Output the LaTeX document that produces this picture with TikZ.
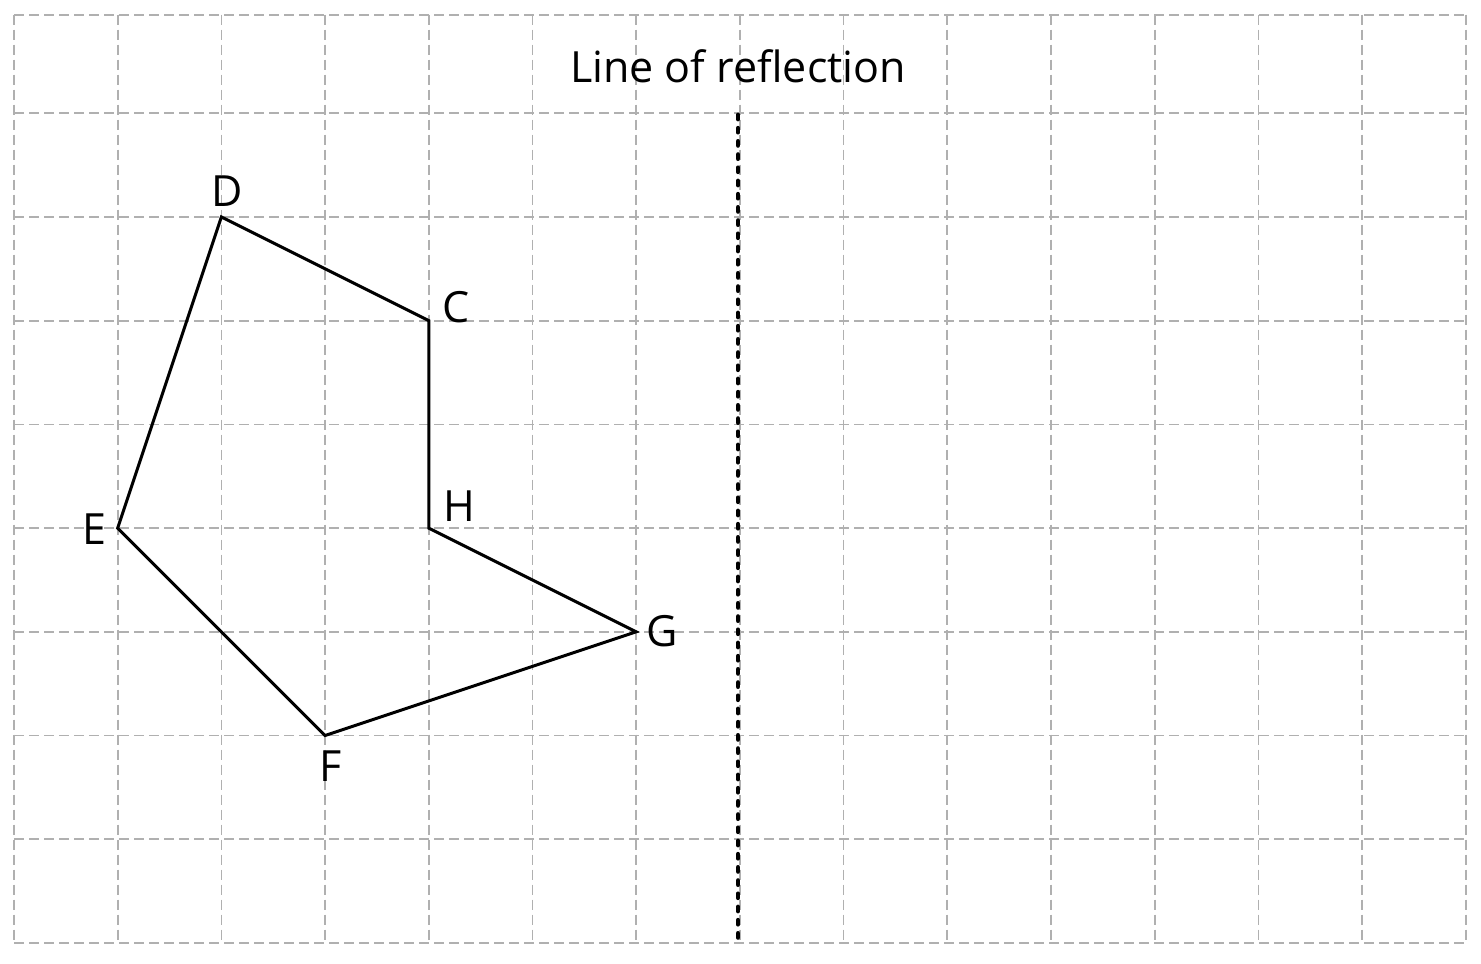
\documentclass[tikz,border=0pt]{standalone}
\usepackage{fontspec}
\setmainfont{Open Sans}
\definecolor{gridgray}{RGB}{176,176,176}
\begin{document}
\begin{tikzpicture}[x=0.5pt,y=-0.5pt,
  gridline/.style={draw=gridgray,line width=0.85pt,dash pattern=on 5pt off 2.5pt},
  shapeline/.style={draw=black,line width=1.5pt,line join=miter},
  reflline/.style={draw=black,line width=2.4pt,line cap=round,dash pattern=on 2pt off 4.6pt},
  lbl/.style={font=\fontsize{21.5pt}{24pt}\selectfont,inner sep=0pt}]
\useasboundingbox (0,0) rectangle (1481,963);
\fill[white] (0,0) rectangle (1481,963);
% grid
\foreach \i in {0,...,14}{
  \draw[gridline] ({14+103.7*\i},14.7) -- ({14+103.7*\i},942.7);
}
\draw[gridline] (14,14.7) -- (1465.8,14.7);
\foreach \j in {1,...,9}{
  \draw[gridline] (14,{113.3+103.7*(\j-1)}) -- (1465.8,{113.3+103.7*(\j-1)});
}
% reflection line
\coordinate (rtop) at (738,115);
\coordinate (rbot) at (738,941);
\draw[reflline] (rtop) -- (rbot);
\node[lbl,anchor=base] (title) at (738,83) {Line of reflection};
% vertices
\coordinate (D) at (221.4,217);
\coordinate (C) at (428.8,320.7);
\coordinate (H) at (428.8,528.1);
\coordinate (G) at (636.2,631.8);
\coordinate (F) at (325.1,735.5);
\coordinate (E) at (117.7,528.1);
\draw[shapeline] (D) -- (C) -- (H) -- (G) -- (F) -- (E) -- cycle;
% labels
\node[lbl] (lD) at (226.7,191) {D};
\node[lbl] (lC) at (456,307) {C};
\node[lbl] (lH) at (459,506) {H};
\node[lbl] (lG) at (662,631) {G};
\node[lbl] (lF) at (331,766) {F};
\node[lbl] (lE) at (94,529) {E};
\end{tikzpicture}
\end{document}
